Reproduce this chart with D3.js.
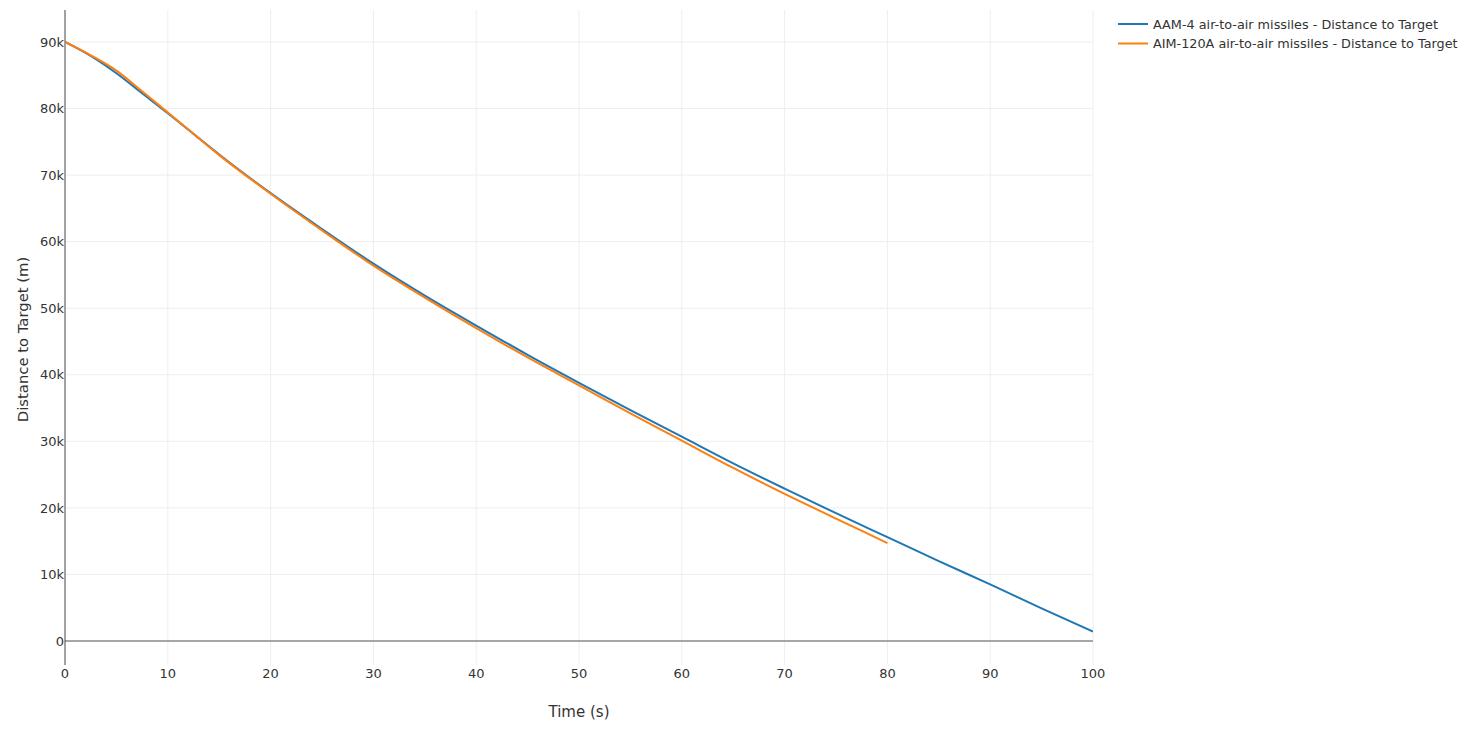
<!DOCTYPE html>
<html>
<head>
<meta charset="utf-8">
<script src="https://cdn.jsdelivr.net/npm/d3@7"></script>
<style>
  body { margin: 0; background: #fff; }
  svg { display: block; }
  text { font-family: "DejaVu Sans", Verdana, sans-serif; }
</style>
</head>
<body>
<svg id="chart" width="1473" height="740"></svg>
<script>
// ---- data ----
const aamTime = [0, 2.5, 5, 7.5, 10, 12.5, 15, 20, 25, 30, 35, 40, 45, 50, 55, 60, 65, 70, 75, 80, 85, 90, 95, 100];
const aamDist = [90000, 87900, 85300, 82300, 79300, 76200, 73100, 67300, 61900, 56700, 51900, 47400, 43000, 38800, 34700, 30700, 26700, 22900, 19200, 15600, 12000, 8500, 4900, 1400];
const aimTime = [0, 2.5, 5, 7.5, 10, 12.5, 15, 20, 25, 30, 35, 40, 45, 50, 55, 60, 65, 70, 75, 80];
const aimDist = [90000, 88000, 85700, 82600, 79400, 76200, 73000, 67200, 61700, 56400, 51600, 47000, 42600, 38400, 34200, 30100, 26000, 22100, 18400, 14700];
const seriesNames = ["AAM-4 air-to-air missiles - Distance to Target", "AIM-120A air-to-air missiles - Distance to Target"];
const seriesColors = ["#1f77b4", "#ff7f0e"];
const xTicks = [0, 10, 20, 30, 40, 50, 60, 70, 80, 90, 100];
const yTicks = [0, 10000, 20000, 30000, 40000, 50000, 60000, 70000, 80000, 90000];
const xTitle = "Time (s)";
const yTitle = "Distance to Target (m)";

const series = [
  { name: seriesNames[0], color: seriesColors[0], pts: aamTime.map((t, i) => [t, aamDist[i]]) },
  { name: seriesNames[1], color: seriesColors[1], pts: aimTime.map((t, i) => [t, aimDist[i]]) }
];

const svg = d3.select("#chart");
const L = 65, R = 1093, T = 10, B = 665;
const txt = "#333333";

const x = d3.scaleLinear().domain([0, 100]).range([L, R]);
const y = d3.scaleLinear().domain([0, 90000]).range([641, 42]);

// gridlines
const g = svg.append("g");
g.selectAll(".vg").data(xTicks.filter(d => d !== 0)).enter().append("line")
  .attr("x1", d => x(d)).attr("x2", d => x(d)).attr("y1", T).attr("y2", B)
  .attr("stroke", "#eeeeee").attr("stroke-width", 1);
g.selectAll(".hg").data(yTicks.filter(d => d !== 0)).enter().append("line")
  .attr("x1", L).attr("x2", R).attr("y1", d => y(d)).attr("y2", d => y(d))
  .attr("stroke", "#eeeeee").attr("stroke-width", 1);
// zero line
g.append("line").attr("x1", L).attr("x2", R).attr("y1", y(0)).attr("y2", y(0))
  .attr("stroke", "#888888").attr("stroke-width", 1.5);

// y axis line
svg.append("line").attr("x1", L).attr("x2", L).attr("y1", T).attr("y2", B)
  .attr("stroke", "#444444").attr("stroke-width", 1);

// tick labels
const fmtK = d => d === 0 ? "0" : (d / 1000) + "k";
svg.selectAll(".yl").data(yTicks).enter().append("text")
  .attr("x", L - 1).attr("y", d => y(d)).attr("dy", "0.36em")
  .attr("text-anchor", "end").attr("font-size", 13).attr("fill", txt)
  .text(fmtK);
svg.selectAll(".xl").data(xTicks).enter().append("text")
  .attr("x", d => x(d)).attr("y", 678)
  .attr("text-anchor", "middle").attr("font-size", 13).attr("fill", txt)
  .text(d => d);

// axis titles
svg.append("text").attr("x", x(50)).attr("y", 717).attr("text-anchor", "middle")
  .attr("font-size", 15).attr("fill", txt).text(xTitle);
svg.append("text").attr("transform", `translate(28, ${y(45000) - 2}) rotate(-90)`)
  .attr("text-anchor", "middle").attr("font-size", 14.8).attr("fill", txt).text(yTitle);

// lines
const line = d3.line().x(d => x(d[0])).y(d => y(d[1])).curve(d3.curveMonotoneX);
svg.append("clipPath").attr("id", "clip").append("rect")
  .attr("x", L).attr("y", T).attr("width", R - L).attr("height", B - T);
svg.append("g").attr("clip-path", "url(#clip)").selectAll("path").data(series).enter().append("path")
  .attr("d", d => line(d.pts)).attr("fill", "none")
  .attr("stroke", d => d.color).attr("stroke-width", 2);

// legend
const lg = svg.append("g").attr("transform", "translate(1118, 24)");
series.forEach((s, i) => {
  const row = lg.append("g").attr("transform", `translate(0, ${i * 19.5})`);
  row.append("line").attr("x1", 0).attr("x2", 30).attr("y1", 0).attr("y2", 0)
    .attr("stroke", s.color).attr("stroke-width", 2);
  row.append("text").attr("x", 35).attr("y", 0).attr("dy", "0.36em")
    .attr("font-size", 12.8).attr("fill", txt).text(s.name);
});
</script>
</body>
</html>
